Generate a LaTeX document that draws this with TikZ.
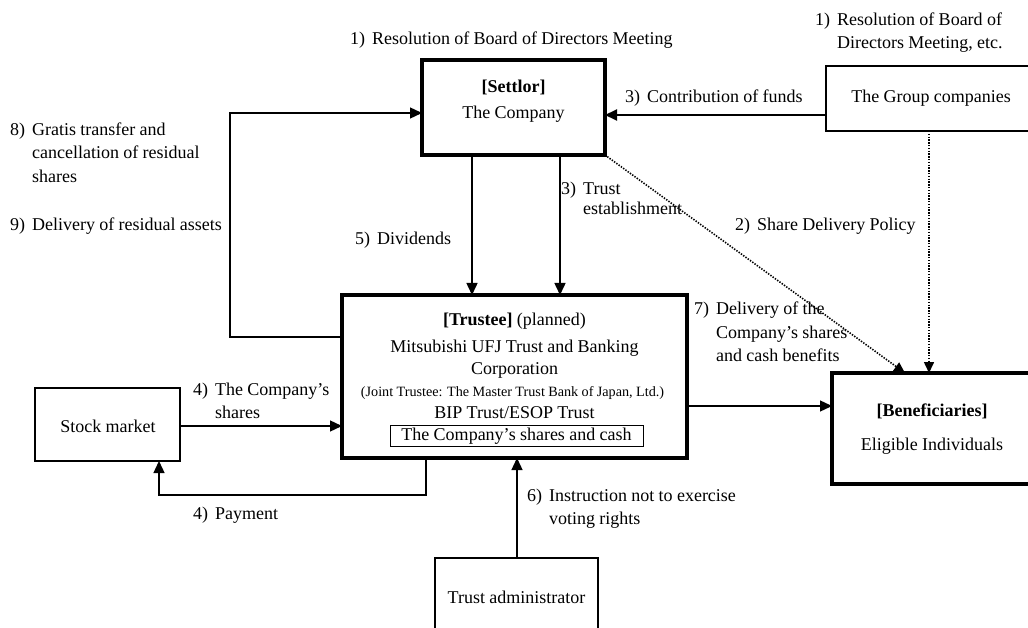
\documentclass[tikz,border=0pt]{standalone}
\usepackage{fontspec}
\setmainfont{Liberation Serif}[WordSpace=0.95]
\usetikzlibrary{arrows.meta}
\newcommand{\numlbl}[2]{\begin{tabular}{@{}l@{\hspace{7pt}}l@{}}#1&#2\end{tabular}}
\tikzset{
  thickbox/.style={draw, line width=3.5pt, inner sep=0pt, outer sep=0pt},
  thinbox/.style={draw, line width=1.2pt, inner sep=0pt, outer sep=0pt},
  txt/.style={inner sep=0pt},
  lab/.style={inner sep=0pt, anchor=west},
  arr/.style={line width=1.3pt, -{Triangle[length=12pt,width=11pt]}},
  dotarr/.style={line width=1.6pt, dash pattern=on 1.4pt off 1.4pt, -{Triangle[length=11pt,width=10pt]}},
}
\begin{document}
\begin{tikzpicture}[x=1pt,y=-1pt,font=\fontsize{18}{23.5}\selectfont]
\clip (0,0) rectangle (1028,628);
\fill[white] (0,0) rectangle (1028,628);
% boxes
\node[thickbox, minimum width=183pt, minimum height=95pt] (set) at (513.5,107.5) {};
\node[thickbox, line width=4pt, minimum width=345pt, minimum height=163pt] (tru) at (514.5,376.5) {};
\node[thickbox, line width=4pt, minimum width=202pt, minimum height=111pt] (ben) at (933,428.5) {};
\node[thinbox, minimum width=208pt, minimum height=65pt] (grp) at (930,98.5) {};
\node[thinbox, minimum width=145pt, minimum height=73pt] (stk) at (107.5,424.5) {};
\node[thinbox, minimum width=163pt, minimum height=82pt] (adm) at (516.5,599) {};
% box texts
\node[txt] (setT) at (513.5,87) {\bfseries [Settlor]};
\node[txt] (setC) at (513.5,114) {The Company};
\node[txt] (truT) at (514.5,321) {\textbf{[Trustee]} (planned)};
\node[txt] (truM) at (514.5,348) {Mitsubishi UFJ Trust and Banking};
\node[txt] (truC) at (514.5,370) {Corporation};
\node[txt, font=\fontsize{14.2}{16}\selectfont] (truJ) at (512.5,393) {(Joint Trustee: The Master Trust Bank of Japan, Ltd.)};
\node[txt] (truB) at (514.5,413) {BIP Trust/ESOP Trust};
\node[draw, line width=1pt, inner sep=0pt, minimum width=253pt, minimum height=21pt] (truS) at (516.5,436) {The Company’s shares and cash};
\node[txt] (benT) at (932,411) {\bfseries [Beneficiaries]};
\node[txt] (benE) at (932,446) {Eligible Individuals};
\node[txt] (grpT) at (931,98) {The Group companies};
\node[txt] (stkT) at (108,426) {Stock market};
\node[txt] (admT) at (516.5,597) {Trust administrator};
% labels
\node[lab] (l1a) at (350,40) {\numlbl{1)}{Resolution of Board of Directors Meeting}};
\node[lab] (l1b) at (815,32.5) {\numlbl{1)}{Resolution of Board of\\ & Directors Meeting, etc.}};
\node[lab] (l3a) at (625,98) {\numlbl{3)}{Contribution of funds}};
\node[lab] (l8) at (10,154) {\numlbl{8)}{Gratis transfer and\\ & cancellation of residual\\ & shares}};
\node[lab] (l9) at (10,226) {\numlbl{9)}{Delivery of residual assets}};
\node[lab] (l5) at (355,240) {\numlbl{5)}{Dividends}};
\node[lab, font=\fontsize{18}{20.5}\selectfont] (l3b) at (561,200.5) {\numlbl{3)}{Trust\\ & establishment}};
\node[lab] (l2) at (735,226) {\numlbl{2)}{Share Delivery Policy}};
\node[lab] (l7) at (694,333.5) {\numlbl{7)}{Delivery of the\\ & Company’s shares\\ & and cash benefits}};
\node[lab] (l4a) at (193,402.5) {\numlbl{4)}{The Company’s\\ & shares}};
\node[lab] (l4b) at (193,515) {\numlbl{4)}{Payment}};
\node[lab] (l6) at (527,508.5) {\numlbl{6)}{Instruction not to exercise\\ & voting rights}};
% connectors
\coordinate (lp1) at (230,337);
\coordinate (lp2) at (230,113);
\draw[arr] (tru.west |- lp1) -- (lp1) -- (lp2) -- (set.west |- lp2);
\draw[arr, line width=2pt] (grp.west |- 0,115) -- (set.east |- 0,115);
\draw[arr, line width=1.5pt] (472,0 |- set.south) -- (472,0 |- tru.north);
\draw[arr, line width=1.5pt] (560,0 |- set.south) -- (560,0 |- tru.north);
\draw[dotarr] (set.south east) -- (905,0 |- ben.north);
\draw[dotarr] (929,0 |- grp.south) -- (929,0 |- ben.north);
\draw[arr] (tru.east |- 0,406) -- (ben.west |- 0,406);
\draw[arr] (stk.east |- 0,426) -- (tru.west |- 0,426);
\coordinate (py1) at (426,495);
\coordinate (py2) at (159,495);
\draw[arr] (py1 |- tru.south) -- (py1) -- (py2) -- (py2 |- stk.south);
\draw[arr] (517,0 |- adm.north) -- (517,0 |- tru.south);
\end{tikzpicture}
\end{document}
